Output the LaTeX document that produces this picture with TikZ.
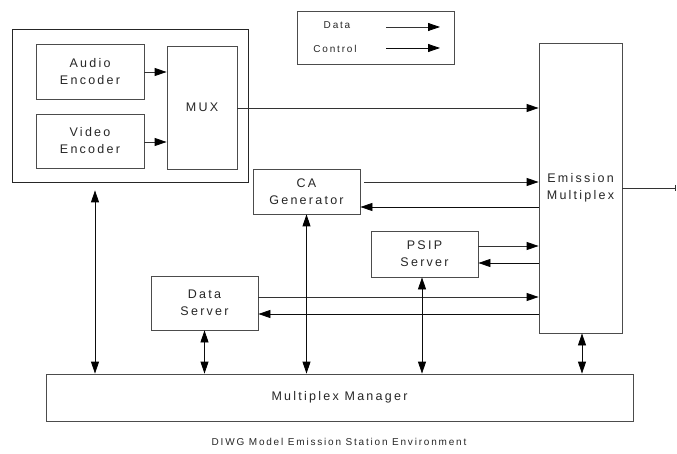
\documentclass[tikz,border=0pt]{standalone}
\usepackage{fontspec}
\setmainfont{Liberation Sans}[LetterSpace=18]
\usetikzlibrary{arrows.meta}
\begin{document}
\begin{tikzpicture}[x=1pt,y=-1pt,
  box/.style={draw=black!70,line width=0.8pt,inner sep=0pt,text=black!85,
    font=\fontsize{12.5}{17}\selectfont,align=center},
  tip/.style={-{Triangle[length=12pt,width=8pt,color=black]}},
  dtip/.style={{Triangle[length=12pt,width=8pt,color=black]}-{Triangle[length=12pt,width=8pt,color=black]}},
  dataline/.style={draw=black!80,line width=0.8pt,tip},
  ctrlline/.style={draw=black!95,line width=0.8pt,tip},
  both/.style={draw=black!95,line width=0.8pt,dtip},
  small/.style={text=black!85,font=\fontsize{10}{12}\selectfont,inner sep=0pt}]
\useasboundingbox (0,0) rectangle (677,454);
% nodes
\node[box,draw=black!85,minimum width=236pt,minimum height=153pt] (outer) at (130,105.5) {};
\node[box,minimum width=108pt,minimum height=55pt] (audio) at (90,71.5) {Audio\\Encoder};
\node[box,minimum width=108pt,minimum height=54pt] (video) at (90,141) {Video\\Encoder};
\node[box,minimum width=70pt,minimum height=123pt] (mux) at (202,107.5) {MUX};
\node[box,minimum width=157pt,minimum height=53pt] (legend) at (375.5,37.5) {};
\node[small] (ldata) at (337,25) {Data};
\node[small] (lctrl) at (335,48.5) {Control};
\coordinate (ld1) at (386,27);
\coordinate (ld2) at (440,27);
\coordinate (lc1) at (386,48);
\coordinate (lc2) at (440,48);
\node[box,minimum width=83pt,minimum height=290pt] (em) at (580.5,188) {Emission\\Multiplex};
\node[box,minimum width=107pt,minimum height=45pt] (ca) at (306.5,191.5) {CA\\Generator};
\node[box,minimum width=107pt,minimum height=46pt] (psip) at (424.5,254) {PSIP\\Server};
\node[box,minimum width=107pt,minimum height=54pt] (ds) at (204.5,303) {Data\\Server};
\node[box,minimum width=587pt,minimum height=47pt] (mm) at (339.5,397.5) {Multiplex Manager};
\node[small] (caption) at (339,442) {DIWG Model Emission Station Environment};
\coordinate (out) at (676,188);
% legend arrows
\draw[dataline] (ld1) -- (ld2);
\draw[ctrlline] (lc1) -- (lc2);
% encoder arrows
\draw[dataline] (audio.east |- 0,72) -- (mux.west |- 0,72);
\draw[dataline] (video.east |- 0,142) -- (mux.west |- 0,142);
\draw[dataline] (mux.east |- 0,108) -- (em.west |- 0,108);
% CA
\draw[dataline] ([xshift=4pt]ca.east |- 0,182) -- (em.west |- 0,182);
\draw[ctrlline] (em.west |- 0,207) -- (ca.east |- 0,207);
% PSIP
\draw[dataline] (psip.east |- 0,246) -- (em.west |- 0,246);
\draw[ctrlline] (em.west |- 0,263) -- (psip.east |- 0,263);
% Data server
\draw[dataline] (ds.east |- 0,297) -- (em.west |- 0,297);
\draw[ctrlline] (em.west |- 0,314) -- (ds.east |- 0,314);
% output
\draw[draw=black!80,line width=0.8pt,-{Bar[width=6pt]}] (em.east |- out) -- (out);
% vertical links to manager
\draw[both] ([yshift=-8pt]outer.south -| 95,0) -- (95,0 |- mm.north);
\draw[both] (ds.south) -- (ds.south |- mm.north);
\draw[both] (ca.south) -- (ca.south |- mm.north);
\draw[both] (422,0 |- psip.south) -- (422,0 |- mm.north);
\draw[both] (582,0 |- em.south) -- (582,0 |- mm.north);
\end{tikzpicture}
\end{document}
